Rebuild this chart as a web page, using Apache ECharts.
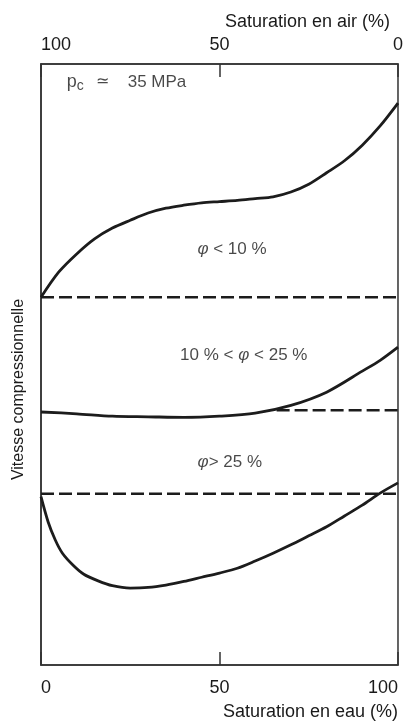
<!DOCTYPE html>
<html>
<head>
<meta charset="utf-8">
<script src="https://cdn.jsdelivr.net/npm/echarts@6/dist/echarts.min.js"></script>
<style>
  html, body { margin: 0; padding: 0; background: #fff; }
  #chart { width: 406px; height: 726px; }
</style>
</head>
<body>
<div id="chart"></div>
<script>
// saturation en eau (%) -> vitesse (unités arbitraires, 0 = bas du cadre, 100 = haut)
const eau1 = [0, 5, 10, 15, 20, 25, 30, 35, 40, 45, 50, 55, 60, 65, 70, 75, 80, 85, 90, 95, 100];
const vit1 = [61.2, 65.4, 68.4, 70.9, 72.7, 74.0, 75.2, 76.0, 76.5, 76.9, 77.1, 77.3, 77.6, 77.9,
              78.7, 80.0, 81.9, 83.9, 86.5, 89.7, 93.5];

const eau2 = [0, 10, 20, 30, 40, 50, 60, 70, 80, 90, 95, 100];
const vit2 = [42.1, 41.8, 41.4, 41.3, 41.2, 41.4, 41.9, 43.2, 45.4, 48.9, 50.7, 52.9];

const eau3 = [0, 2, 4, 6, 9, 12, 16, 20, 25, 30, 35, 40, 45, 50, 55, 60, 65, 70, 75, 80, 85, 90, 95, 100];
const vit3 = [28.0, 23.8, 20.8, 18.6, 16.6, 15.1, 14.0, 13.2, 12.8, 12.9, 13.3, 13.9, 14.6, 15.3,
              16.1, 17.3, 18.6, 20.0, 21.5, 23.0, 24.8, 26.6, 28.6, 30.3];

// niveaux à sec (pointillés)
const secX1 = [0, 100];
const secY1 = [61.2, 61.2];
const secX2 = [66, 100];
const secY2 = [42.4, 42.4];
const secX3 = [0, 100];
const secY3 = [28.5, 28.5];

const ticksEau = [0, 50, 100];
const annotTxt = ['{i|φ} < 10 %', '10 % < {i|φ} < 25 %', '{i|φ}> 25 %'];
const annotX = [53.5, 56.8, 52.9];
const annotY = [69.2, 51.6, 33.8];

const ink = '#1c1c1c';
const txt = '#1a1a1a';
const font = '"Liberation Sans", Arial, sans-serif';

function pairs(xs, ys) {
  return xs.map((x, i) => [x, ys[i]]);
}

function courbe(xs, ys) {
  return {
    type: 'line', data: pairs(xs, ys), smooth: 0.3, symbol: 'none',
    lineStyle: { color: ink, width: 2.8 }, z: 3
  };
}

function pointilles(xs, ys) {
  return {
    type: 'line', data: pairs(xs, ys), symbol: 'none',
    lineStyle: { color: ink, width: 2.4, type: [13, 5] }, z: 2
  };
}

const chart = echarts.init(document.getElementById('chart'));

chart.setOption({
  backgroundColor: '#fff',
  animation: false,
  textStyle: { fontFamily: font, color: txt },
  grid: {
    left: 41, right: 6, top: 64, bottom: 61,
    show: true, borderColor: '#333', borderWidth: 1.5
  },
  xAxis: [
    {
      type: 'value', position: 'bottom', min: 0, max: 100, interval: 50,
      name: 'Saturation en eau (%)', nameLocation: 'end', nameGap: 0,
      nameTextStyle: { fontSize: 18, color: txt, align: 'right', verticalAlign: 'top', padding: [38, 0, 0, 0] },
      axisLine: { show: true, lineStyle: { color: '#333', width: 1.5 } },
      axisTick: { show: true, inside: true, length: 13, lineStyle: { color: '#333', width: 1.5 } },
      axisLabel: {
        fontSize: 18, color: txt, margin: 14,
        alignMinLabel: 'left', alignMaxLabel: 'right',
        customValues: ticksEau
      },
      splitLine: { show: false }
    },
    {
      type: 'value', position: 'top', inverse: true, min: 0, max: 100, interval: 50,
      name: 'Saturation en air (%)', nameLocation: 'start', nameGap: 0,
      nameTextStyle: { fontSize: 18, color: txt, align: 'right', verticalAlign: 'bottom', padding: [0, 8, 33, 0] },
      axisLine: { show: true, lineStyle: { color: '#333', width: 1.5 } },
      axisTick: { show: true, inside: true, length: 13, lineStyle: { color: '#333', width: 1.5 } },
      axisLabel: {
        fontSize: 18, color: txt, margin: 10,
        alignMinLabel: 'center', alignMaxLabel: 'left'
      },
      splitLine: { show: false }
    }
  ],
  yAxis: {
    type: 'value', min: 0, max: 100,
    name: 'Vitesse compressionnelle', nameLocation: 'middle', nameGap: 14,
    nameTextStyle: { fontSize: 16, color: txt, padding: [0, 50, 0, 0] },
    axisLine: { show: true, lineStyle: { color: '#333', width: 1.5 } },
    axisTick: { show: false },
    axisLabel: { show: false },
    splitLine: { show: false }
  },
  series: [
    courbe(eau1, vit1),
    courbe(eau2, vit2),
    courbe(eau3, vit3),
    pointilles(secX1, secY1),
    pointilles(secX2, secY2),
    pointilles(secX3, secY3),
    {
      type: 'scatter', symbolSize: 0, z: 4,
      data: annotTxt.map((t, i) => ({ value: [annotX[i], annotY[i]], txt: t })),
      label: {
        show: true, position: 'inside', fontSize: 17, color: txt,
        formatter: p => p.data.txt,
        rich: { i: { fontSize: 17, fontStyle: 'italic', color: txt } }
      }
    },
    {
      type: 'scatter', symbolSize: 0, z: 4,
      data: [[7.2, 97.0]],
      label: {
        show: true, position: 'right', distance: 0, color: txt,
        formatter: '{p|p}{c|c}{s|≃}{t|35 MPa}',
        rich: {
          p: { fontSize: 18, color: txt },
          c: { fontSize: 14, color: txt, padding: [9, 0, 0, 0] },
          s: { fontSize: 16, color: txt, padding: [0, 0, 0, 12] },
          t: { fontSize: 17, color: txt, padding: [0, 0, 0, 19] }
        }
      }
    }
  ]
});
</script>
</body>
</html>
